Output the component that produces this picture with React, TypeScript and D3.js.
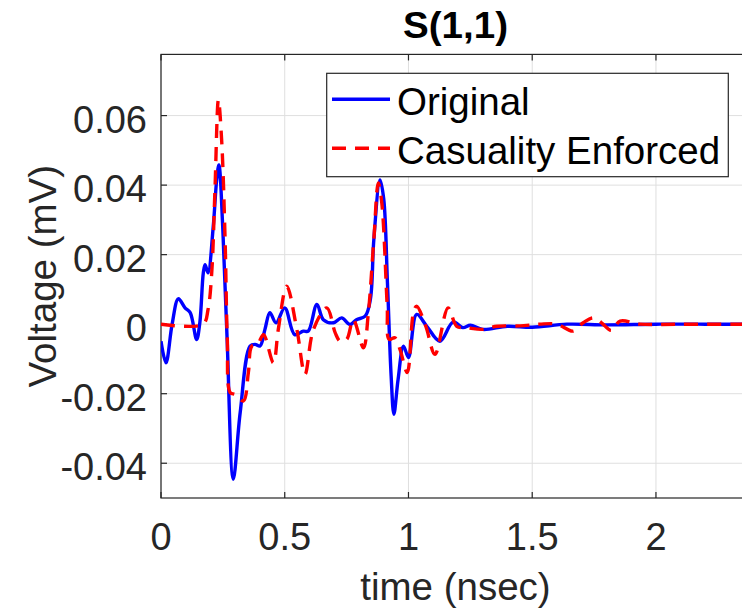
import React from "react";
import * as d3 from "d3";

const xTicks = [0, 0.5, 1, 1.5, 2];
const xTickLabels = ["0", "0.5", "1", "1.5", "2"];
const yTicks = [-0.04, -0.02, 0, 0.02, 0.04, 0.06];
const yTickLabels = ["-0.04", "-0.02", "0", "0.02", "0.04", "0.06"];

const seriesNames = ["Original", "Casuality Enforced"];

const tOriginal = [
  0, 0.02, 0.045, 0.07, 0.097, 0.118, 0.144, 0.157, 0.171, 0.178, 0.19, 0.211, 0.225, 0.234,
  0.25, 0.267, 0.292, 0.32, 0.36, 0.38, 0.4, 0.42, 0.44, 0.465, 0.5, 0.54, 0.575, 0.595,
  0.63, 0.656, 0.697, 0.73, 0.764, 0.79, 0.825, 0.846, 0.86, 0.885, 0.9, 0.915, 0.93, 0.941,
  0.958, 0.98, 1.0, 1.033, 1.074, 1.127, 1.18, 1.22, 1.25, 1.3, 1.4, 1.5, 1.64, 1.8, 2.0,
  2.2, 2.4,
];
const vOriginal = [
  -0.0049, -0.0111, 0.0, 0.0073, 0.0047, 0.0033, -0.0044, 0.0005, 0.0148, 0.0171, 0.0148,
  0.028, 0.0415, 0.0458, 0.027, -0.004, -0.0446, -0.0254, -0.0063, -0.0058, -0.0063, -0.0015,
  0.0033, 0.0004, 0.0047, -0.003, -0.002, -0.002, 0.0057, 0.0013, 0.0004, 0.0018, -0.0001,
  0.0013, 0.0023, 0.0071, 0.0243, 0.0415, 0.036, 0.012, -0.015, -0.0259, -0.0159, -0.0063,
  -0.0096, 0.0028, -0.0006, -0.0049, 0.0006, -0.001, -0.0003, -0.0015, -0.0006, -0.0009, 0.0,
  -0.0002, 0.0, 0.0, 0.0,
];

const tCausal = [
  0, 0.17, 0.19, 0.205, 0.218, 0.232, 0.245, 0.259, 0.268, 0.28, 0.3, 0.333, 0.353, 0.367,
  0.39, 0.414, 0.454, 0.474, 0.508, 0.549, 0.582, 0.616, 0.67, 0.704, 0.724, 0.75, 0.777,
  0.818, 0.838, 0.86, 0.878, 0.892, 0.914, 0.922, 0.945, 0.966, 0.995, 1.02, 1.033, 1.07,
  1.107, 1.16, 1.195, 1.236, 1.3, 1.357, 1.45, 1.53, 1.6, 1.665, 1.706, 1.747, 1.78, 1.82,
  1.855, 1.935, 2.1, 2.4,
];
const vCausal = [
  0, 0, 0.0042, 0.0148, 0.0386, 0.0645, 0.053, 0.0243, -0.0044, -0.0197, -0.0202, -0.0221,
  -0.0139, -0.0063, -0.0058, -0.003, -0.0111, -0.0015, 0.0109, -0.0015, -0.0144, -0.0015,
  0.0047, -0.0025, -0.0049, -0.0044, 0.0013, -0.0068, 0.0034, 0.0243, 0.0406, 0.035, 0.0052,
  -0.0044, -0.0039, -0.0073, -0.0139, 0.0033, 0.0052, -0.0006, -0.0087, 0.0047, -0.0006,
  -0.001, -0.0015, -0.0006, -0.0005, 0, 0, -0.002, 0.0004, 0.0018, 0.0004, -0.0018, 0.0009,
  0, 0, 0,
];

const W = 742;
const H = 609;
const FONT = "'Liberation Sans', Arial, Helvetica, sans-serif";
const AX = "#262626";
const GRID = "#dfdfdf";

export default function App() {
  const left = 161;
  const right = 750;
  const top = 54.4;
  const bottom = 498;
  const x = d3.scaleLinear().domain([0, 2.38]).range([left, right]);
  const y = d3.scaleLinear().domain([-0.05, 0.0776]).range([bottom, top]);

  const line = d3
    .line<[number, number]>()
    .x((d) => x(d[0]))
    .y((d) => y(d[1]))
    .curve(d3.curveCatmullRom.alpha(0.5));

  const origPts: [number, number][] = tOriginal.map((t, i) => [t, vOriginal[i]]);
  const causPts: [number, number][] = tCausal.map((t, i) => [t, vCausal[i]]);

  const tick = 6;

  return (
    <svg
      width={W}
      height={H}
      style={{ position: "absolute", left: 0, top: 0, background: "#fff" }}
      fontFamily={FONT}
    >
      <defs>
        <clipPath id="plotclip">
          <rect x={left} y={top} width={right - left} height={bottom - top} />
        </clipPath>
      </defs>
      <rect x={0} y={0} width={W} height={H} fill="#fff" />
      {/* grid */}
      {xTicks.map((t) => (
        <line key={"gx" + t} x1={x(t)} x2={x(t)} y1={top} y2={bottom} stroke={GRID} strokeWidth={1} />
      ))}
      {yTicks.map((t) => (
        <line key={"gy" + t} x1={left} x2={right} y1={y(t)} y2={y(t)} stroke={GRID} strokeWidth={1} />
      ))}
      {/* axes box */}
      <rect x={left} y={top} width={right - left} height={bottom - top} fill="none" stroke={AX} strokeWidth={1.2} />
      {xTicks.map((t) => (
        <g key={"tx" + t}>
          <line x1={x(t)} x2={x(t)} y1={bottom} y2={bottom - tick} stroke={AX} strokeWidth={1.2} />
          <line x1={x(t)} x2={x(t)} y1={top} y2={top + tick} stroke={AX} strokeWidth={1.2} />
        </g>
      ))}
      {yTicks.map((t) => (
        <line key={"ty" + t} x1={left} x2={left + tick} y1={y(t)} y2={y(t)} stroke={AX} strokeWidth={1.2} />
      ))}
      {/* lines */}
      <g clipPath="url(#plotclip)">
        <path d={line(origPts) || ""} fill="none" stroke="#0000ff" strokeWidth={3.4} strokeLinejoin="round" />
        <path
          d={line(causPts) || ""}
          fill="none"
          stroke="#ff0000"
          strokeWidth={3.4}
          strokeDasharray="14,9"
        />
      </g>
      {/* tick labels */}
      {xTicks.map((t, i) => (
        <text key={"lx" + t} x={x(t)} y={550} textAnchor="middle" fontSize={38} fill={AX}>
          {xTickLabels[i]}
        </text>
      ))}
      {yTicks.map((t, i) => (
        <text key={"ly" + t} x={147} y={y(t) + 17} textAnchor="end" fontSize={38} fill={AX}>
          {yTickLabels[i]}
        </text>
      ))}
      {/* axis labels */}
      <text x={455.5} y={600} textAnchor="middle" fontSize={38.5} fill={AX}>
        time (nsec)
      </text>
      <text
        transform={`translate(56, ${(top + bottom) / 2}) rotate(-90)`}
        textAnchor="middle"
        fontSize={38.5}
        fill={AX}
      >
        Voltage (mV)
      </text>
      {/* title */}
      <text x={455.5} y={38} textAnchor="middle" fontSize={36} fontWeight="bold" fill="#000" textLength={105} lengthAdjust="spacingAndGlyphs">
        S(1,1)
      </text>
      {/* legend */}
      <rect x={326.7} y={73.3} width={401.6} height={103.4} fill="#fff" stroke={AX} strokeWidth={1.2} />
      <line x1={332} x2={390} y1={99.3} y2={99.3} stroke="#0000ff" strokeWidth={3.4} />
      <text x={397} y={115} fontSize={38.5} fill="#000">
        {seriesNames[0]}
      </text>
      <line x1={332} x2={390} y1={148.3} y2={148.3} stroke="#ff0000" strokeWidth={3.4} strokeDasharray="14,9" />
      <text x={397} y={163.5} fontSize={38.5} fill="#000">
        {seriesNames[1]}
      </text>
    </svg>
  );
}
